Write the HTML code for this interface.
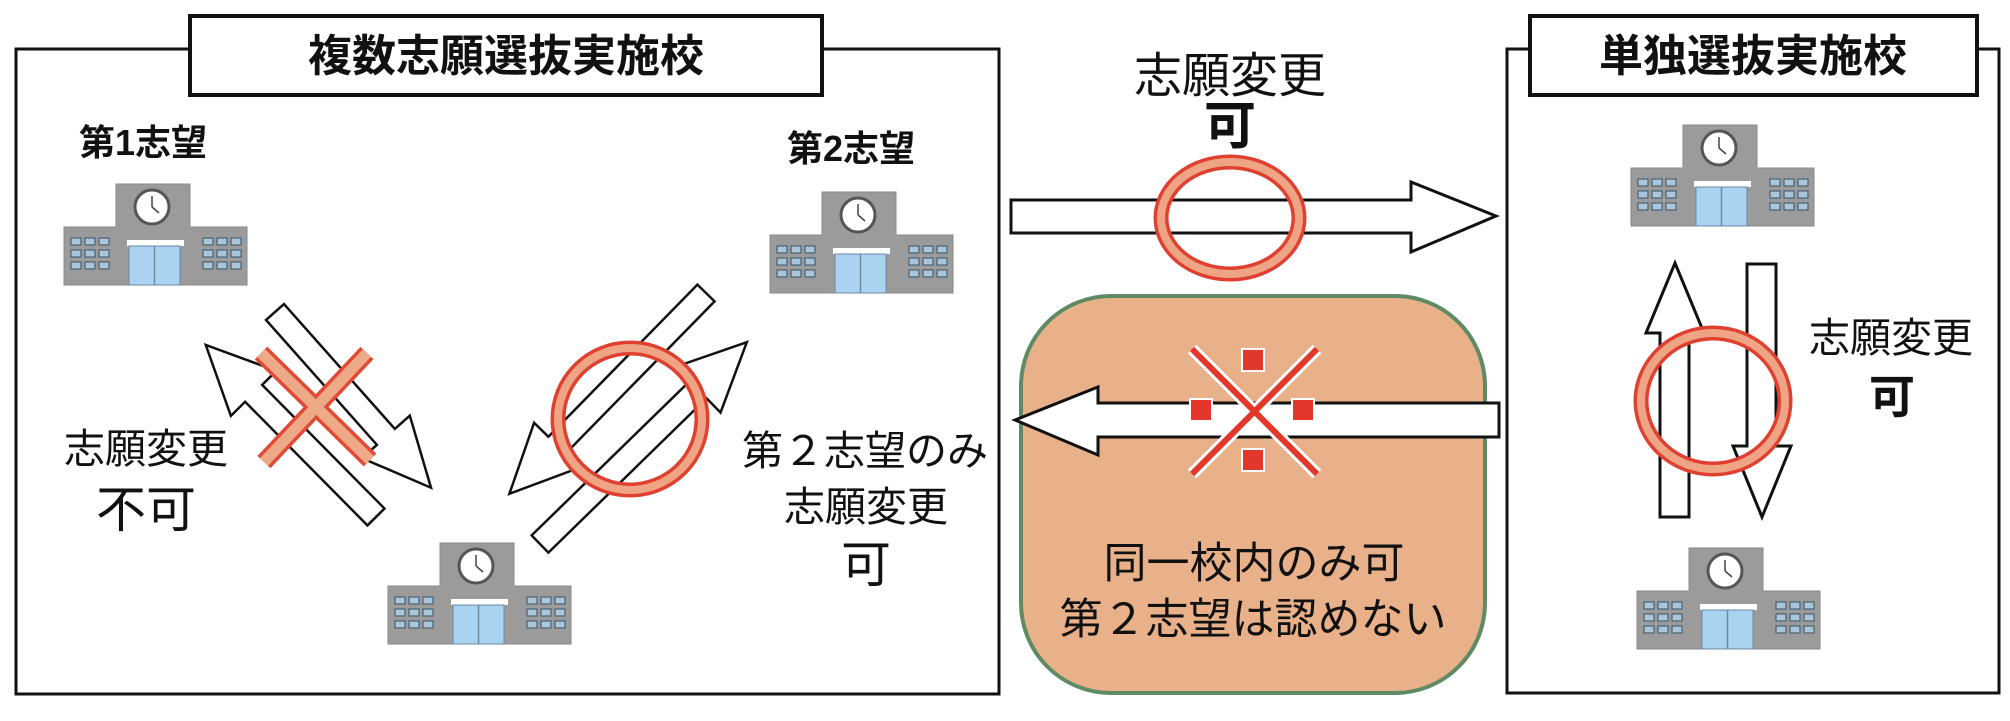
<!DOCTYPE html>
<html><head><meta charset="utf-8"><style>
html,body{margin:0;padding:0;background:#fff;width:2010px;height:721px;overflow:hidden}
svg{display:block}
text{font-family:"Liberation Sans","Noto Sans CJK JP",sans-serif;fill:#111}
.b{font-weight:bold}
</style></head><body>
<svg width="2010" height="721" viewBox="0 0 2010 721" xmlns="http://www.w3.org/2000/svg">
<defs>
<g id="bld">
  <rect x="52" y="0" width="74" height="50" fill="#9b9b9b" stroke="#888" stroke-width="1"/>
  <rect x="0" y="43" width="183" height="58" fill="#9b9b9b" stroke="#888" stroke-width="1"/>
  <rect x="52" y="40" width="74" height="10" fill="#9b9b9b"/>
  <circle cx="88" cy="23" r="17" fill="#fff" stroke="#555" stroke-width="3"/>
  <line x1="88" y1="23" x2="88" y2="12" stroke="#444" stroke-width="1.5"/>
  <line x1="88" y1="23" x2="95" y2="29" stroke="#444" stroke-width="1.5"/>
  <rect x="63" y="56" width="57" height="6" fill="#fff"/>
  <rect x="65" y="62" width="51" height="39" fill="#a9d3f0" stroke="#6b8aa0" stroke-width="1"/>
  <line x1="90.5" y1="62" x2="90.5" y2="101" stroke="#6b8aa0" stroke-width="1.5"/>
  <g fill="#a9c7dc" stroke="#4a6070" stroke-width="1.2">
    <rect x="7" y="54" width="10" height="7"/><rect x="21" y="54" width="10" height="7"/><rect x="35" y="54" width="10" height="7"/>
    <rect x="7" y="66" width="10" height="7"/><rect x="21" y="66" width="10" height="7"/><rect x="35" y="66" width="10" height="7"/>
    <rect x="7" y="78" width="10" height="7"/><rect x="21" y="78" width="10" height="7"/><rect x="35" y="78" width="10" height="7"/>
    <rect x="139" y="54" width="10" height="7"/><rect x="153" y="54" width="10" height="7"/><rect x="167" y="54" width="10" height="7"/>
    <rect x="139" y="66" width="10" height="7"/><rect x="153" y="66" width="10" height="7"/><rect x="167" y="66" width="10" height="7"/>
    <rect x="139" y="78" width="10" height="7"/><rect x="153" y="78" width="10" height="7"/><rect x="167" y="78" width="10" height="7"/>
  </g>
</g>
</defs>

<!-- Left box -->
<rect x="16" y="49" width="983" height="645" fill="none" stroke="#111" stroke-width="3"/>
<rect x="190" y="16" width="632" height="79" fill="#fff" stroke="#111" stroke-width="4"/>
<text x="506" y="71" font-size="44" text-anchor="middle" class="b">複数志願選抜実施校</text>

<text x="79" y="155" font-size="36" class="b">第1志望</text>
<text x="787" y="161" font-size="36" class="b">第2志望</text>

<use href="#bld" x="64" y="184"/>
<use href="#bld" x="770" y="192"/>
<use href="#bld" x="388" y="543"/>

<g fill="#fff" stroke="#111" stroke-width="2.5" stroke-linejoin="miter">
  <polygon transform="translate(275,312) rotate(48.4)" points="0,-12 167,-12 167,-32 235,0 167,32 167,12 0,12"/>
  <polygon transform="translate(376,517) rotate(225.3)" points="0,-12 174,-12 174,-32 242,0 174,32 174,12 0,12"/>
  <polygon transform="translate(540,544) rotate(-44.3)" points="0,-12 221,-12 221,-32 289,0 221,32 221,12 0,12"/>
  <polygon transform="translate(706,293) rotate(134.4)" points="0,-12 213,-12 213,-32 281,0 213,32 213,12 0,12"/>
</g>
<!-- X mark -->
<g stroke-linecap="butt">
  <line x1="261" y1="353" x2="370" y2="460" stroke="#e24a35" stroke-width="18"/>
  <line x1="367" y1="353" x2="264" y2="462" stroke="#e24a35" stroke-width="18"/>
  <line x1="261" y1="353" x2="370" y2="460" stroke="#eeaa88" stroke-width="11"/>
  <line x1="367" y1="353" x2="264" y2="462" stroke="#eeaa88" stroke-width="11"/>
</g>
<ellipse cx="630" cy="419" rx="72" ry="71" fill="none" stroke="#e04030" stroke-width="15"/>
<ellipse cx="630" cy="419" rx="72" ry="71" fill="none" stroke="#efa585" stroke-width="8"/>

<text x="146" y="463" font-size="41" text-anchor="middle">志願変更</text>
<text x="146" y="527" font-size="50" text-anchor="middle">不可</text>
<text x="865" y="465" font-size="41" text-anchor="middle">第２志望のみ</text>
<text x="866" y="521" font-size="41" text-anchor="middle">志願変更</text>
<text x="866" y="582" font-size="50" text-anchor="middle">可</text>

<!-- Middle -->
<text x="1230" y="92" font-size="48" text-anchor="middle">志願変更</text>
<text x="1230" y="144" font-size="52" text-anchor="middle" class="b">可</text>
<polygon fill="#fff" stroke="#111" stroke-width="3" points="1011,200 1411,200 1411,182 1496,216 1411,252 1411,233 1011,233"/>
<ellipse cx="1230" cy="218" rx="69" ry="56" fill="none" stroke="#e04030" stroke-width="15"/>
<ellipse cx="1230" cy="218" rx="69" ry="56" fill="none" stroke="#efa585" stroke-width="8"/>

<rect x="1021" y="296" width="464" height="397" rx="90" ry="90" fill="#e8b189" stroke="#5e8a64" stroke-width="4"/>
<polygon fill="#fff" stroke="#111" stroke-width="3" points="1499,403 1098,403 1098,387 1015,420 1098,455 1098,437 1499,437"/>
<g>
  <line x1="1192" y1="349" x2="1317" y2="474" stroke="#fff" stroke-width="12"/>
  <line x1="1317" y1="349" x2="1192" y2="474" stroke="#fff" stroke-width="12"/>
  <line x1="1192" y1="349" x2="1317" y2="474" stroke="#e2372a" stroke-width="6"/>
  <line x1="1317" y1="349" x2="1192" y2="474" stroke="#e2372a" stroke-width="6"/>
  <g fill="#e2372a" stroke="#fff" stroke-width="2">
    <rect x="1242" y="349" width="22" height="22"/>
    <rect x="1190" y="399" width="22" height="22"/>
    <rect x="1292" y="399" width="22" height="22"/>
    <rect x="1242" y="449" width="22" height="22"/>
  </g>
</g>
<text x="1254" y="578" font-size="43" text-anchor="middle">同一校内のみ可</text>
<text x="1253" y="634" font-size="43" text-anchor="middle">第２志望は認めない</text>

<!-- Right box -->
<rect x="1507" y="49" width="492" height="644" fill="none" stroke="#111" stroke-width="3"/>
<rect x="1530" y="16" width="447" height="79" fill="#fff" stroke="#111" stroke-width="4"/>
<text x="1753" y="71" font-size="44" text-anchor="middle" class="b">単独選抜実施校</text>
<use href="#bld" x="1631" y="125"/>
<use href="#bld" x="1637" y="548"/>
<polygon fill="#fff" stroke="#111" stroke-width="3" points="1660,517 1660,333 1646,333 1675,263 1704,333 1689,333 1689,517"/>
<polygon fill="#fff" stroke="#111" stroke-width="3" points="1747,264 1776,264 1776,446 1791,446 1762,517 1733,446 1747,446"/>
<ellipse cx="1713" cy="401" rx="72" ry="68" fill="none" stroke="#e04030" stroke-width="15"/>
<ellipse cx="1713" cy="401" rx="72" ry="68" fill="none" stroke="#efa585" stroke-width="8"/>
<text x="1891" y="352" font-size="41" text-anchor="middle">志願変更</text>
<text x="1892" y="413" font-size="46" text-anchor="middle" class="b">可</text>
</svg>
</body></html>
